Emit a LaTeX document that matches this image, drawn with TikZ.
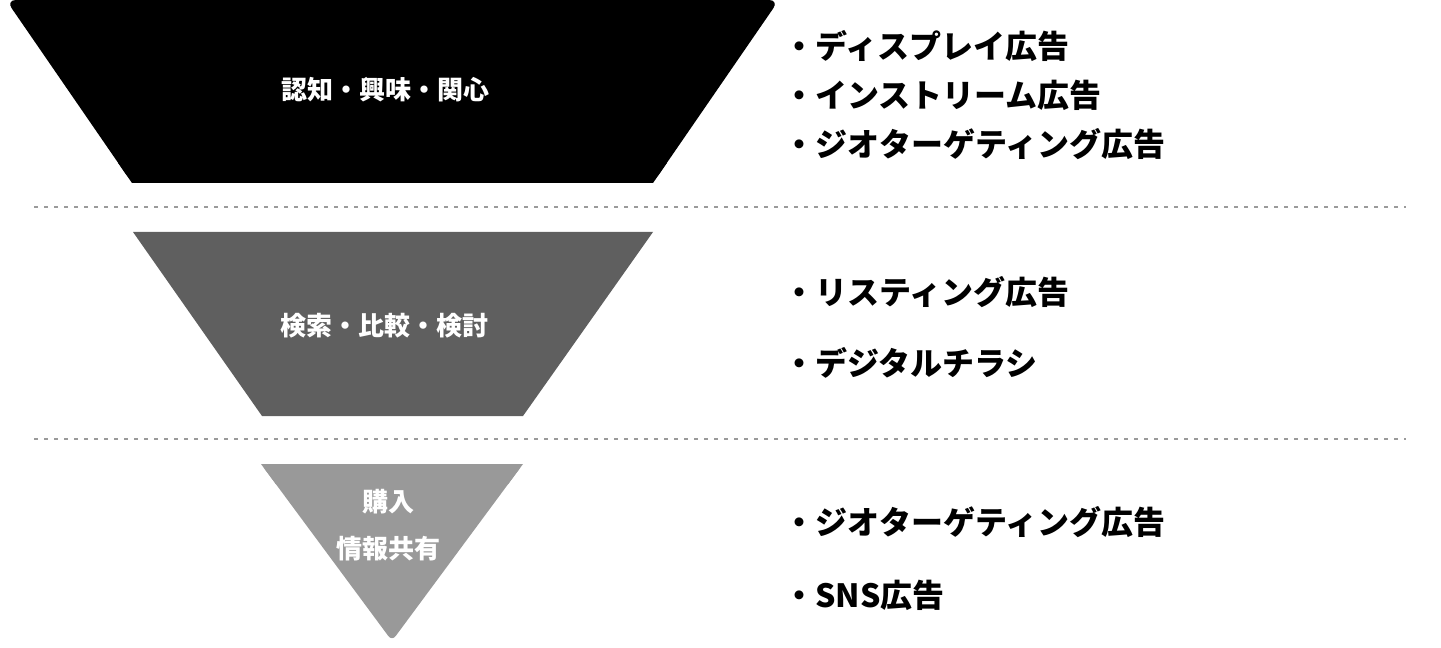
\documentclass[tikz,border=0pt]{standalone}
\usepackage{fontspec}
\setmainfont{Noto Sans CJK JP}
\usetikzlibrary{positioning}
\definecolor{stageA}{HTML}{000000}
\definecolor{stageB}{HTML}{5F5F5F}
\definecolor{stageC}{HTML}{999999}
\definecolor{sepgray}{HTML}{9A9A9A}
\tikzset{
  item/.style={inner sep=0pt,text height=21.12pt,text depth=2.88pt,font=\fontsize{24}{29}\selectfont\bfseries},
  stagelabel/.style={inner sep=0pt,text=white,text height=17.16pt,text depth=2.34pt,font=\fontsize{19.5}{24}\selectfont\bfseries},
  sepline/.style={sepgray,line width=1.5pt,dash pattern=on 3pt off 4.5pt}
}
\begin{document}
\begin{tikzpicture}[x=0.75pt,y=-0.75pt]
\useasboundingbox (0,0) rectangle (1441,648);

% funnel (rounded shape, then sharp strip over the corners that stay square)
\fill[stageA,rounded corners=7.5pt] (132,183) -- (6,0) -- (779,0) -- (653,183) -- cycle;
\fill[stageA] (118.2,163) -- (666.8,163) -- (653,183) -- (132,183) -- cycle;
\fill[stageB] (133,232) -- (653,232) -- (523,416) -- (262,416) -- cycle;
\fill[stageC,rounded corners=4.5pt] (261,464) -- (523,464) -- (392,641) -- cycle;
\fill[stageC] (261,464) -- (523,464) -- (508.2,484) -- (275.8,484) -- cycle;

\node[stagelabel] (aware) at (385,90) {認知・興味・関心};
\node[stagelabel] (search) at (384,326) {検索・比較・検討};
\node[stagelabel] (buy) at (388,502) {購入};
\node[stagelabel,below=15pt of buy] (share) {情報共有};

% separators
\draw[sepline] (34,207) -- (1406,207);
\draw[sepline] (34,439) -- (1406,439);

% ads
\node[item,anchor=west] (disp) at (783,46.5) {・ディスプレイ広告};
\node[item,below=12.4pt of disp.south west,anchor=north west] (instr) {・インストリーム広告};
\node[item,below=12.4pt of instr.south west,anchor=north west] (geoA) {・ジオターゲティング広告};

\node[item,anchor=west] (listing) at (783,292) {・リスティング広告};
\node[item,below=29.25pt of listing.south west,anchor=north west] (flyer) {・デジタルチラシ};

\node[item,anchor=west] (geoB) at (783,522) {・ジオターゲティング広告};
\node[item,below=30.75pt of geoB.south west,anchor=north west] (sns) {・SNS広告};

\end{tikzpicture}
\end{document}
